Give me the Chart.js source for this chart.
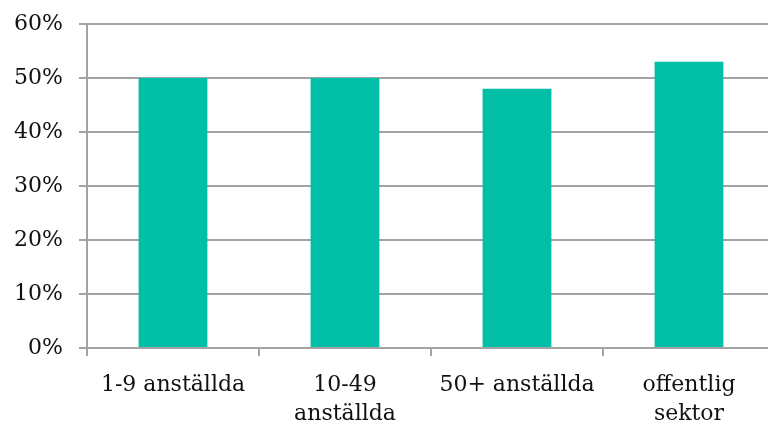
<!DOCTYPE html>
<html>
<head>
<meta charset="utf-8">
<script src="https://cdn.jsdelivr.net/npm/chart.js@4/dist/chart.umd.min.js"></script>
<style>
  html, body { margin: 0; padding: 0; background: #fff; overflow: hidden; }
  #wrap { position: relative; width: 790px; height: 421px; }
</style>
</head>
<body>
<div id="wrap"><canvas id="c" width="790" height="421"></canvas></div>
<script>
// Share of respondents by employer size / sector
const categories = [
  ["1-9 anställda"],
  ["10-49", "anställda"],
  ["50+ anställda"],
  ["offentlig", "sektor"]
];
const values = [50, 50, 48, 53];
const yTicks = [0, 10, 20, 30, 40, 50, 60];

const fontFamily = "'DejaVu Serif', 'Liberation Serif', serif";
const gridColor = "#a3a3a3";

new Chart(document.getElementById("c"), {
  type: "bar",
  data: {
    labels: categories,
    datasets: [{
      data: values,
      backgroundColor: "#00bfa6",
      borderWidth: 0,
      categoryPercentage: 1.0,
      barPercentage: 0.4
    }]
  },
  options: {
    responsive: false,
    animation: false,
    layout: { padding: { top: 24, right: 15, bottom: 0, left: 0 } },
    plugins: { legend: { display: false }, tooltip: { enabled: false } },
    scales: {
      x: {
        grid: {
          offset: true,
          drawOnChartArea: false,
          drawTicks: true,
          tickLength: 8,
          color: gridColor,
          lineWidth: 2
        },
        border: { display: true, color: gridColor, width: 2 },
        ticks: {
          color: "#111",
          font: { family: fontFamily, size: 22, lineHeight: 1.3 },
          padding: 15,
          maxRotation: 0,
          autoSkip: false
        },
        afterFit: (s) => { s.height = 73; }
      },
      y: {
        min: 0,
        max: 60,
        afterBuildTicks: (s) => { s.ticks = yTicks.map(v => ({ value: v })); },
        grid: {
          color: gridColor,
          lineWidth: 2,
          tickLength: 8
        },
        border: { display: true, color: gridColor, width: 2 },
        ticks: {
          color: "#111",
          font: { family: fontFamily, size: 22 },
          padding: 16,
          callback: (v) => v + "%"
        },
        afterFit: (s) => { s.width = 87; s.paddingTop = 0; s.paddingBottom = 0; }
      }
    }
  }
});
</script>
</body>
</html>
